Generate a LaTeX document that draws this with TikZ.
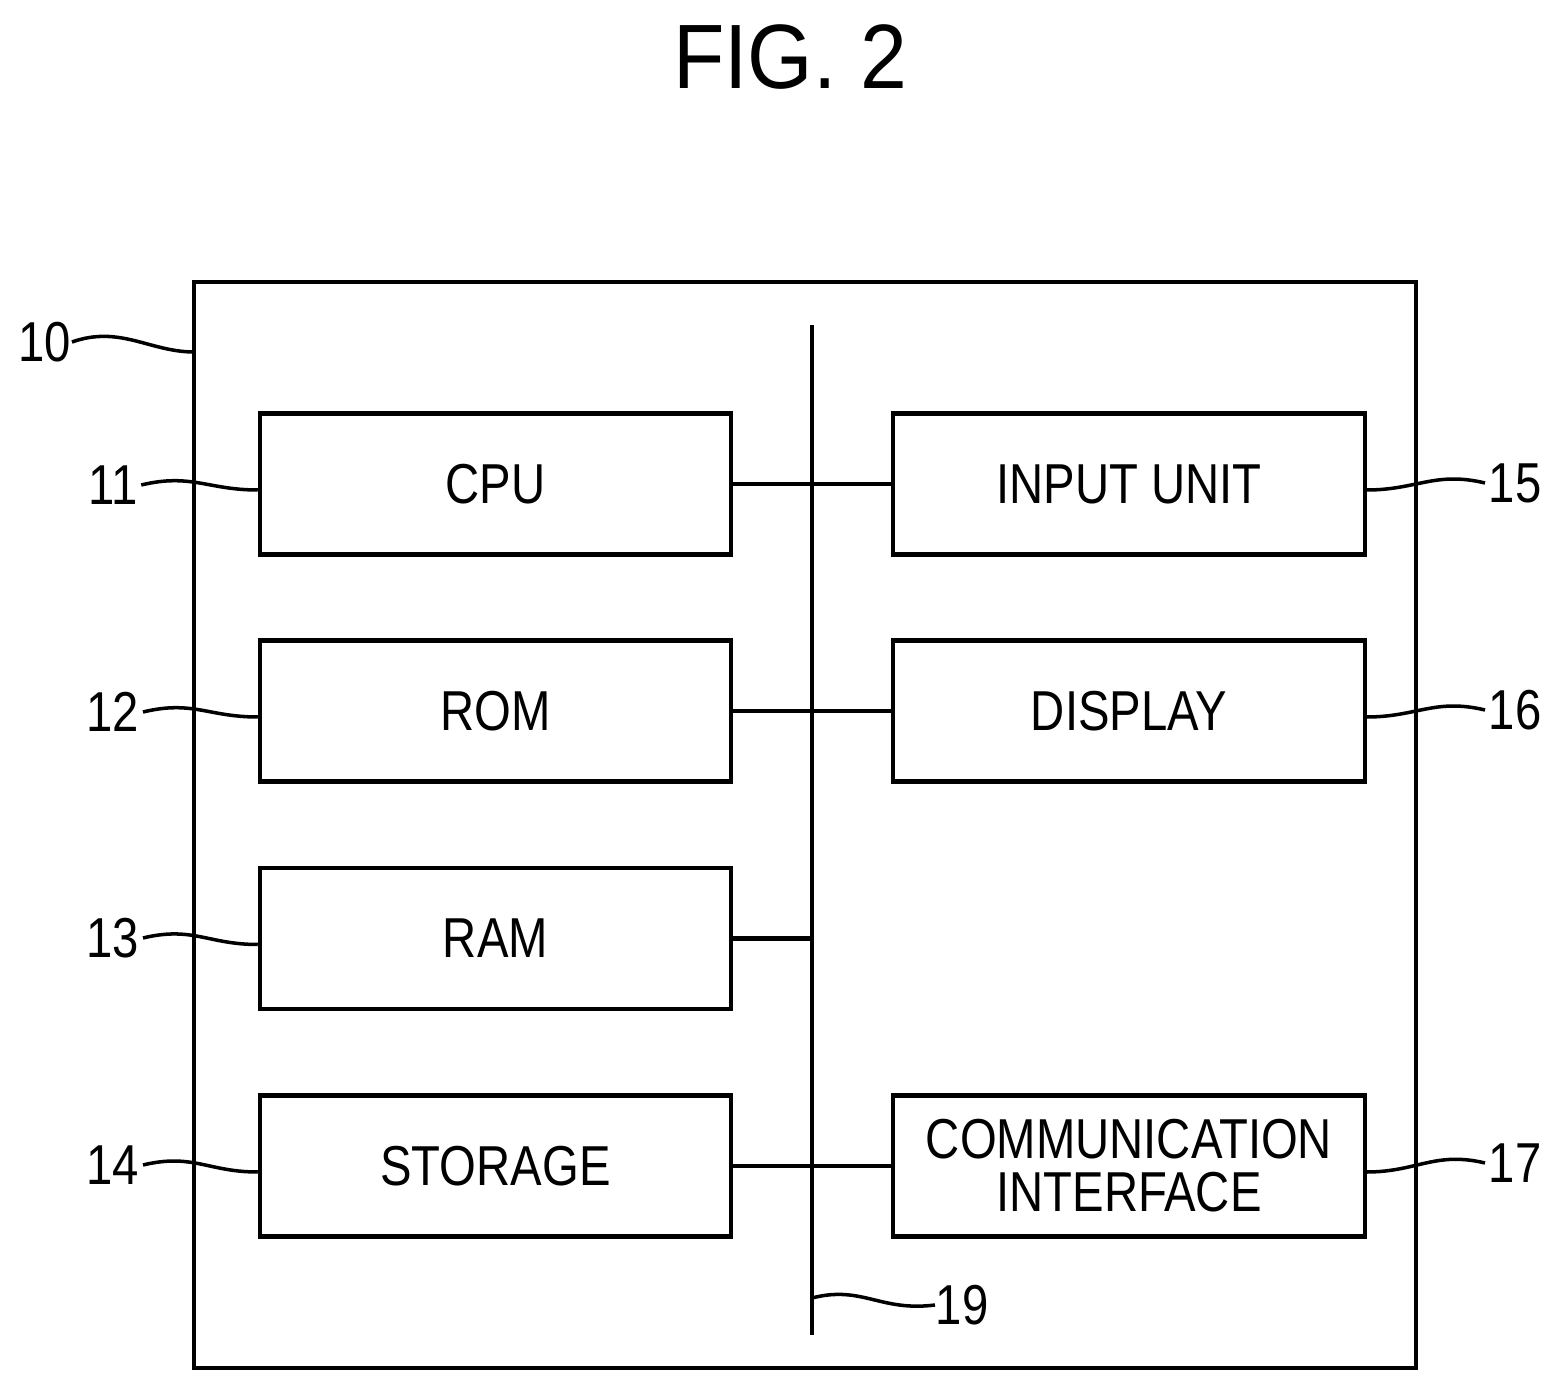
\documentclass[tikz,border=0pt]{standalone}
\usepackage{fontspec}
\setmainfont{Liberation Sans}
\newcommand{\nar}[1]{\scalebox{0.84}[1]{#1}}
\begin{document}
\begin{tikzpicture}[x=0.01cm,y=-0.01cm,
 box/.style={draw,line width=1.2pt,minimum width=4.71cm,minimum height=1.41cm,inner sep=0pt,align=center,font=\fontsize{16}{16}\selectfont},
 ln/.style={line width=1.2pt},
 lbl/.style={font=\fontsize{16}{16}\selectfont,inner sep=0pt}]
\useasboundingbox (0,0) rectangle (1563,1392);
\node[font=\fontsize{26}{26}\selectfont] (title) at (790,57) {\scalebox{0.92}[1]{FIG. 2}};
\draw[ln] (194,282) rectangle (1416,1368);
\coordinate (bt) at (812,325); \coordinate (bb) at (812,1335);
\draw[ln] (bt) -- (bb);
\node[box] (cpu) at (495.5,484) {\nar{CPU}};
\node[box] (rom) at (495.5,711) {\nar{ROM}};
\node[box] (ram) at (495.5,938.5) {\nar{RAM}};
\node[box] (sto) at (495.5,1166) {\nar{STORAGE}};
\node[box] (inp) at (1129,484) {\nar{INPUT UNIT}};
\node[box] (dis) at (1129,711) {\nar{DISPLAY}};
\node[box,font=\fontsize{16}{15}\selectfont] (com) at (1129,1166) {\nar{COMMUNICATION}\\\nar{INTERFACE}};
\draw[ln] (cpu.east) -- (inp.west);
\draw[ln] (rom.east) -- (dis.west);
\draw[ln] (ram.east) -- (812,938.5);
\draw[ln] (sto.east) -- (com.west);
\node[lbl] (l10) at (45,342) {\nar{10}};
\node[lbl] (l11) at (113,485) {\nar{11}};
\node[lbl] (l12) at (113,712) {\nar{12}};
\node[lbl] (l13) at (113,938) {\nar{13}};
\node[lbl] (l14) at (113,1165) {\nar{14}};
\node[lbl] (l15) at (1515,483) {\nar{15}};
\node[lbl] (l16) at (1515,710) {\nar{16}};
\node[lbl] (l17) at (1515,1163) {\nar{17}};
\node[lbl] (l19) at (962,1305) {\nar{19}};
\tikzset{wv/.style={line width=1pt}}
\draw[wv] (l10.east) .. controls (120,325) and (150,352) .. (194,352);
\foreach \n/\b in {11/cpu,12/rom,13/ram,14/sto}{
 \draw[wv] ([xshift=0.03cm]l\n.east) .. controls +(50,-12) and +(-50,0) .. ([yshift=-0.06cm]\b.west);}
\foreach \n/\b in {15/inp,16/dis,17/com}{
 \draw[wv] ([yshift=-0.06cm]\b.east) .. controls +(50,0) and +(-50,-12) .. ([xshift=-0.03cm]l\n.west);}
\draw[wv] (812,1298) .. controls (862,1285) and (880,1312) .. (l19.west);
\end{tikzpicture}
\end{document}
